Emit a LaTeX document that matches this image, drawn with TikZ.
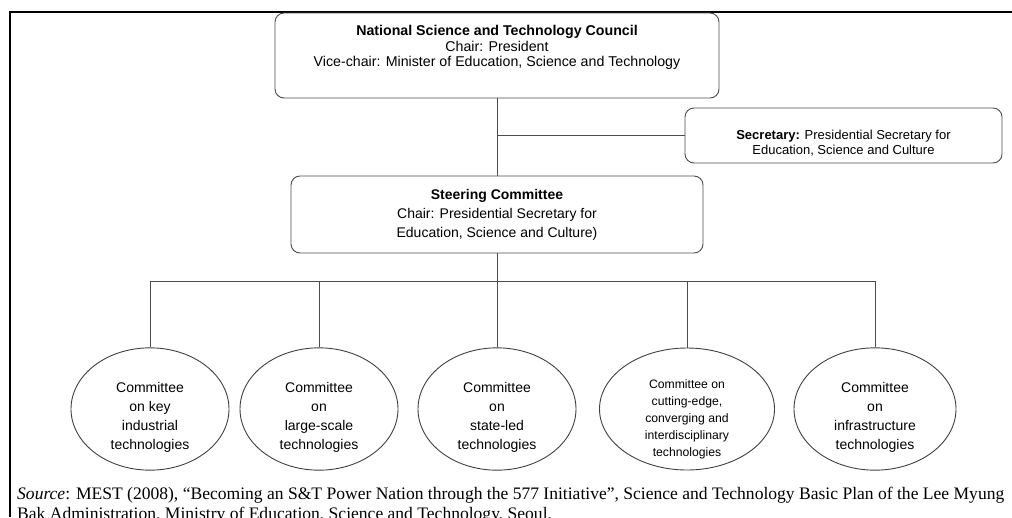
\documentclass[tikz,border=0pt]{standalone}
\usepackage{fontspec}
\setmainfont{Liberation Sans}
\newfontfamily\srcfont{Liberation Serif}
\usepackage{tikz}
\usetikzlibrary{shapes.geometric,calc}
\newcommand{\lift}[1]{\rule{0pt}{#1}}

\begin{document}
\begin{tikzpicture}[
  x=1pt,y=-1pt,
  every node/.style={font=\fontsize{14}{19}\selectfont},
  box/.style={draw=black!70,line width=0.9pt,rounded corners=9pt,align=center,inner sep=0pt},
  comm/.style={draw=black!75,line width=0.9pt,ellipse,align=center,inner sep=0pt,minimum height=122pt},
  link/.style={draw=black!70,line width=0.9pt}
]
\useasboundingbox (0,0) rectangle (1012,517);

% 外枠
\draw[line width=1.6pt] (1012,12) -- (10,12) -- (10,517);

% 国家科学技術委員会
\node[box,minimum width=444pt,minimum height=85pt,
  font=\fontsize{14.2}{15.5}\selectfont] (council) at (497,55.5)
  {\textbf{National Science and Technology Council}\\
   Chair: President\\
   Vice-chair: Minister of Education, Science and Technology\\[3pt]};

% 幹事
\node[box,minimum width=317pt,minimum height=55pt,
  font=\fontsize{13}{15}\selectfont] (sec) at (843.5,135.5)
  {\lift{24pt}\textbf{Secretary:} Presidential Secretary for\\
   Education, Science and Culture};

% 運営委員会
\node[box,minimum width=412pt,minimum height=77pt] (steer) at (497,214.5)
  {\textbf{Steering Committee}\\
   Chair: Presidential Secretary for\\
   Education, Science and Culture)};

% 分科委員会
\node[comm,minimum width=158pt] (keyind) at (150,409)
  {\lift{26.6pt}Committee\\on key\\industrial\\technologies};
\node[comm,minimum width=158pt] (large) at (319,409)
  {\lift{26.6pt}Committee\\on\\large-scale\\technologies};
\node[comm,minimum width=158pt] (state) at (497,409)
  {\lift{26.6pt}Committee\\on\\state-led\\technologies};
\node[comm,minimum width=175pt,inner sep=-8pt,font=\fontsize{12.2}{17}\selectfont] (cutting) at (687,409)
  {\lift{30pt}Committee on\\cutting-edge,\\converging and\\interdisciplinary\\technologies};
\node[comm,minimum width=162pt] (infra) at (875,409)
  {\lift{26.6pt}Committee\\on\\infrastructure\\technologies};

% 接続線
\coordinate (bus) at (497,281);
\draw[link] (council.south) -- (steer.north);
\draw[link] (council.south |- sec.west) -- (sec.west);
\draw[link] (steer.south) -- (bus);
\foreach \c in {keyind,large,state,cutting,infra}
  \draw[link] (bus) -| (\c.north);

% 出典
\node[anchor=north west,inner sep=0pt,align=left,
  font=\srcfont\fontsize{17.55}{20}\selectfont] (src) at (17,486.5)
  {\textit{Source}: MEST (2008), “Becoming an S\&T Power Nation through the 577 Initiative”, Science and Technology Basic Plan of the Lee Myung\\
   Bak Administration, Ministry of Education, Science and Technology, Seoul.};
\end{tikzpicture}
\end{document}
